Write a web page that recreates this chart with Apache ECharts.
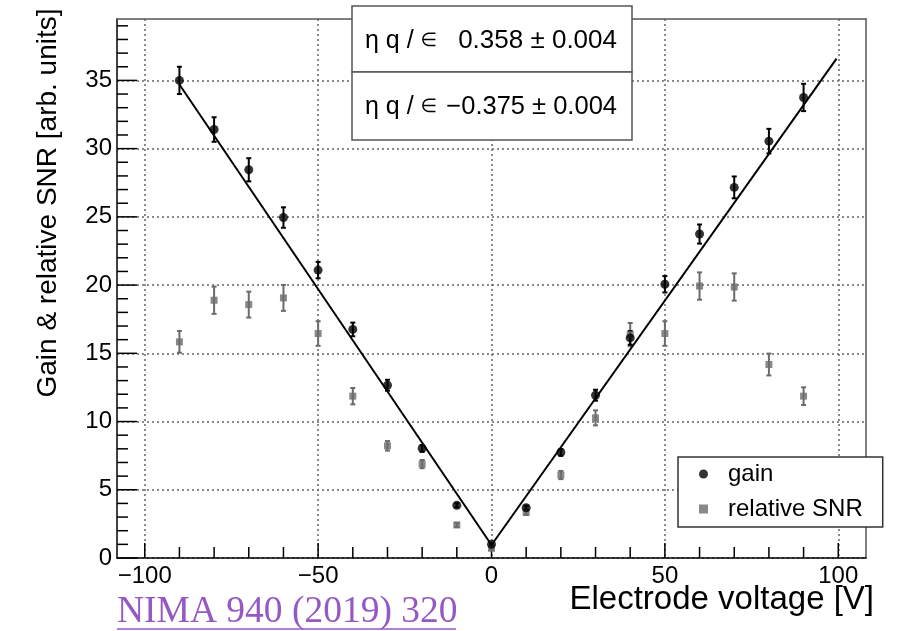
<!DOCTYPE html>
<html>
<head>
<meta charset="utf-8">
<script src="https://cdn.jsdelivr.net/npm/echarts@6/dist/echarts.min.js"></script>
<style>html,body{margin:0;padding:0;background:#fff}#c{width:897px;height:631px}</style>
</head>
<body>
<div id="c"></div>
<script>
// ---- data ----
const voltages = [-90,-80,-70,-60,-50,-40,-30,-20,-10,0,10,20,30,40,50,60,70,80,90];
const gainValues = [35.0,31.4,28.45,24.95,21.1,16.75,12.66,8.03,3.86,1.0,3.68,7.74,11.93,16.13,20.06,23.74,27.16,30.55,33.75];
const gainErrors = [1.0,0.9,0.85,0.75,0.6,0.5,0.4,0.25,0.15,0.1,0.15,0.25,0.4,0.5,0.6,0.7,0.8,0.9,1.0];
const snrValues = [15.84,18.89,18.57,19.06,16.45,11.86,8.22,6.88,2.42,0.71,3.35,6.08,10.27,16.37,16.45,19.93,19.86,14.18,11.86];
const snrErrors = [0.8,1.0,0.95,0.95,0.9,0.6,0.35,0.3,0.15,0.1,0.2,0.3,0.55,0.85,0.9,1.0,1.0,0.8,0.65];
const fitLeft = [[-90,34.7],[0,0.95]];
const fitRight = [[0,0.95],[99.5,36.6]];
const xMajorTicks = [-100,-50,0,50,100];
const xMinorTicks = [-90,-80,-70,-60,-40,-30,-20,-10,10,20,30,40,60,70,80,90];
const yMajorTicks = [0,5,10,15,20,25,30,35];
const yMinorTicks = [1,2,3,4,6,7,8,9,11,12,13,14,16,17,18,19,21,22,23,24,26,27,28,29,31,32,33,34,36,37,38,39];
const fitResults = ['0.358 ± 0.004', '−0.375 ± 0.004'];

const FONT = 'Liberation Sans, Arial, Helvetica, sans-serif';
const chart = echarts.init(document.getElementById('c'));
const xr = [-108,108], yr = [0,39.5];

function errRender(color){
  return function(params, api){
    const x = api.value(0), y = api.value(1), e = api.value(2);
    const t = api.coord([x, y + e]), b = api.coord([x, y - e]);
    const cw = 2.5;
    const st = {stroke: color, lineWidth: 2};
    return {type:'group', children:[
      {type:'line', shape:{x1:t[0], y1:t[1], x2:b[0], y2:b[1]}, style:st},
      {type:'line', shape:{x1:t[0]-cw, y1:t[1], x2:t[0]+cw, y2:t[1]}, style:st},
      {type:'line', shape:{x1:b[0]-cw, y1:b[1], x2:b[0]+cw, y2:b[1]}, style:st}
    ]};
  };
}
// axis ticks drawn inward from the frame, positioned through the axis scales
function tickRender(dir, len){
  return function(params, api){
    const p = api.coord([api.value(0), api.value(1)]);
    const shape = dir === 'x'
      ? {x1:p[0], y1:p[1], x2:p[0], y2:p[1]-len}
      : {x1:p[0], y1:p[1], x2:p[0]+len, y2:p[1]};
    return {type:'line', shape:shape, style:{stroke:'#000', lineWidth:1.5}};
  };
}
function tickSeries(dir, ticks, len){
  return {type:'custom', renderItem:tickRender(dir, len),
    data: ticks.map(v => dir === 'x' ? [v, yr[0]] : [xr[0], v]), encode:{x:0, y:1}};
}
const minusFmt = v => String(v).replace('-', '−');
const gridLine = {show:true, lineStyle:{type:[2,3], color:'#666', width:1.5}};
function frameAxis(range, pos){
  return {type:'value', min:range[0], max:range[1], position:pos,
    axisLine:{show:true, onZero:false, lineStyle:{color:'#555', width:1.5}},
    axisTick:{show:false}, axisLabel:{show:false}, splitLine:{show:false}};
}

const option = {
  animation:false,
  backgroundColor:'#fff',
  grid:{left:117, right:31, top:19, bottom:73},
  xAxis:[
    {type:'value', min:xr[0], max:xr[1], position:'bottom',
     axisLine:{show:true, onZero:false, lineStyle:{color:'#000', width:1.5}},
     axisTick:{show:false, customValues:xMajorTicks},
     axisLabel:{customValues:xMajorTicks, formatter:minusFmt, fontSize:24, color:'#000', fontFamily:FONT, margin:6},
     splitLine:gridLine},
    frameAxis(xr, 'top')
  ],
  yAxis:[
    {type:'value', min:yr[0], max:yr[1], position:'left',
     axisLine:{show:true, onZero:false, lineStyle:{color:'#000', width:1.5}},
     axisTick:{show:false, customValues:yMajorTicks},
     axisLabel:{customValues:yMajorTicks, fontSize:24, color:'#000', fontFamily:FONT, margin:5},
     splitLine:gridLine},
    frameAxis(yr, 'right')
  ],
  legend:{
    orient:'vertical', left:678, top:457,
    backgroundColor:'#fff', borderColor:'#333', borderWidth:1.5, borderRadius:0,
    padding:[5,20,6,21], itemGap:11, itemWidth:9, itemHeight:9,
    textStyle:{fontSize:24, color:'#000', fontFamily:FONT, padding:[0,0,0,15]},
    data:[{name:'gain', icon:'circle'}, {name:'relative SNR', icon:'rect'}]
  },
  series:[
    tickSeries('x', xMajorTicks, 15),
    tickSeries('x', xMinorTicks, 11),
    tickSeries('y', yMajorTicks, 20),
    tickSeries('y', yMinorTicks, 11),
    {type:'custom', name:'snrErr', renderItem:errRender('#6b6b6b'),
     data:voltages.map((v,i)=>[v, snrValues[i], snrErrors[i]]), encode:{x:0, y:1}},
    {type:'scatter', name:'relative SNR', symbol:'rect', symbolSize:7,
     itemStyle:{color:'#6b6b6b'}, data:voltages.map((v,i)=>[v, snrValues[i]])},
    {type:'line', name:'fitL', data:fitLeft, symbol:'none', lineStyle:{color:'#000', width:2}},
    {type:'line', name:'fitR', data:fitRight, symbol:'none', lineStyle:{color:'#000', width:2}},
    {type:'custom', name:'gainErr', renderItem:errRender('#000'),
     data:voltages.map((v,i)=>[v, gainValues[i], gainErrors[i]]), encode:{x:0, y:1}},
    {type:'scatter', name:'gain', symbol:'circle', symbolSize:9,
     itemStyle:{color:'#000'}, data:voltages.map((v,i)=>[v, gainValues[i]])}
  ],
  graphic:[
    {type:'rect', z:100, shape:{x:352, y:6, width:280, height:66}, style:{fill:'#fff', stroke:'#555', lineWidth:1.5}},
    {type:'rect', z:100, shape:{x:352, y:72, width:280, height:68}, style:{fill:'#fff', stroke:'#555', lineWidth:1.5}},
    {type:'text', z:101, x:365, y:41, style:{text:'{a|η q / }{b|∈}', rich:{a:{fontSize:25, fontFamily:FONT, fill:'#000'}, b:{fontSize:19, fontFamily:'DejaVu Sans', fill:'#000'}}, align:'left', verticalAlign:'middle'}},
    {type:'text', z:101, x:617, y:41, style:{text:fitResults[0], fontSize:26, fontFamily:FONT, fill:'#000', align:'right', verticalAlign:'middle'}},
    {type:'text', z:101, x:365, y:107, style:{text:'{a|η q / }{b|∈}', rich:{a:{fontSize:25, fontFamily:FONT, fill:'#000'}, b:{fontSize:19, fontFamily:'DejaVu Sans', fill:'#000'}}, align:'left', verticalAlign:'middle'}},
    {type:'text', z:101, x:617, y:107, style:{text:fitResults[1], fontSize:25.5, fontFamily:FONT, fill:'#000', align:'right', verticalAlign:'middle'}},
    {type:'text', z:101, x:48, y:203, rotation:Math.PI/2, style:{text:'Gain & relative SNR [arb. units]', fontSize:28, fontFamily:FONT, fill:'#000', align:'center', verticalAlign:'middle'}},
    {type:'text', z:101, x:874, y:600, style:{text:'Electrode voltage [V]', fontSize:33, fontFamily:FONT, fill:'#000', align:'right', verticalAlign:'middle'}},
    {type:'text', z:101, x:117, y:612, style:{text:'NIMA 940 (2019) 320', fontSize:37.5, fontFamily:'Liberation Serif, Times New Roman, serif', fill:'#9659c4', align:'left', verticalAlign:'middle'}},
    {type:'line', z:101, shape:{x1:117, y1:629, x2:456, y2:629}, style:{stroke:'#9659c4', lineWidth:1.5}}
  ]
};
chart.setOption(option);
</script>
</body>
</html>
